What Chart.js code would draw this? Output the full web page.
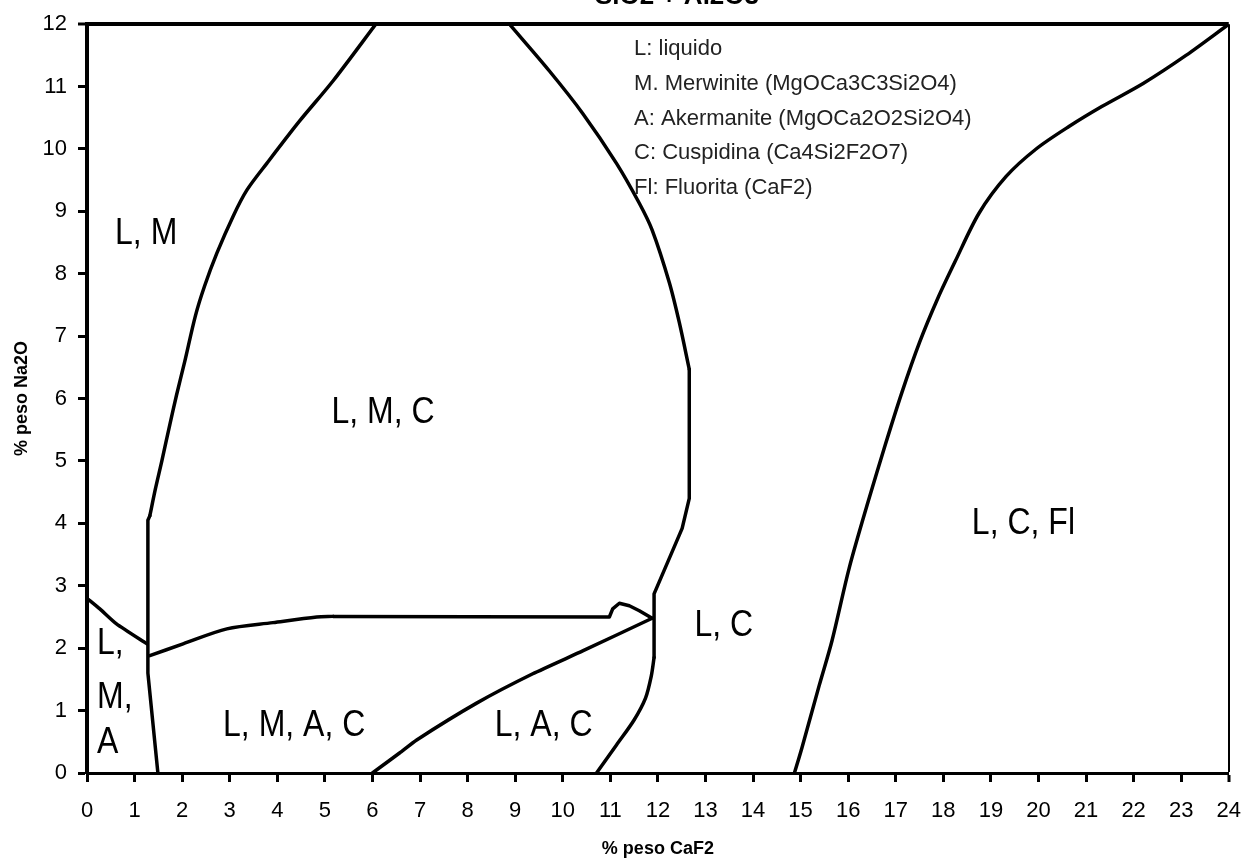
<!DOCTYPE html>
<html>
<head>
<meta charset="utf-8">
<script src="https://cdn.jsdelivr.net/npm/chart.js@4/dist/chart.umd.min.js"></script>
<style>
  html, body { margin: 0; padding: 0; background: #fff; }
  #wrap { width: 1257px; height: 861px; position: relative; }
</style>
</head>
<body>
<div id="wrap"><canvas id="myChart"></canvas></div>
<script>
// Axis ticks
const xTicks = [0, 1, 2, 3, 4, 5, 6, 7, 8, 9, 10, 11, 12, 13, 14, 15, 16, 17, 18, 19, 20, 21, 22, 23, 24];
const yTicks = [0, 1, 2, 3, 4, 5, 6, 7, 8, 9, 10, 11, 12];

// Boundary lines (% CaF2 , % Na2O)
// L,M | L,M,C curve (smooth part)
const lmcLeftX = [6.07, 5.17, 4.47, 3.78, 3.36, 3.07, 2.73, 2.47, 2.28, 2.05, 1.88, 1.74, 1.57, 1.44, 1.32];
const lmcLeftY = [12, 11.09, 10.45, 9.77, 9.34, 8.92, 8.33, 7.8, 7.33, 6.58, 6.05, 5.58, 4.99, 4.56, 4.12];
// vertical drop + slanted foot
const lmcFootX = [1.32, 1.28, 1.28, 1.49];
const lmcFootY = [4.12, 4.05, 1.6, 0];
// L,M,A upper edge from the Na2O axis
const lmaTopX = [0, 0.27, 0.62, 1.26];
const lmaTopY = [2.8, 2.63, 2.39, 2.07];
// L,M,C / L,M,A,C boundary
const lmacTopX = [1.32, 2.02, 2.94, 3.91, 4.83, 5.17];
const lmacTopY = [1.88, 2.07, 2.31, 2.41, 2.5, 2.51];
const lmacFlatX = [5.17, 10.98, 11.05, 11.19, 11.4, 11.61, 11.88];
const lmacFlatY = [2.51, 2.5, 2.63, 2.72, 2.68, 2.6, 2.48];
// L,M,A,C / L,A,C boundary
const lacLeftX = [6.0, 6.57, 6.93, 8.19, 9.37, 10.43, 11.88];
const lacLeftY = [0, 0.32, 0.53, 1.12, 1.59, 1.96, 2.48];
// right edge of L,M,C
const lmcRightX = [8.88, 9.72, 10.42, 11.13, 11.61, 11.88, 12.24, 12.45, 12.66];
const lmcRightY = [12, 11.25, 10.57, 9.77, 9.13, 8.7, 7.86, 7.22, 6.47];
const lmcKinkX = [12.66, 12.66, 12.51, 12.24, 11.92, 11.92];
const lmcKinkY = [6.47, 4.4, 3.92, 3.44, 2.87, 1.85];
// L,A,C / L,C boundary
const lacRightX = [11.92, 11.86, 11.74, 11.5, 11.13, 10.71];
const lacRightY = [1.85, 1.55, 1.2, 0.85, 0.45, 0];
// L,C / L,C,Fl boundary
const lcflX = [14.87, 15.03, 15.39, 15.66, 16.02, 16.42, 16.78, 17.13, 17.5, 17.88, 18.25, 18.75, 19.32, 19.95, 20.64, 21.33, 22.2, 23.1, 24];
const lcflY = [0, 0.41, 1.4, 2.12, 3.28, 4.35, 5.26, 6.1, 6.9, 7.6, 8.2, 8.97, 9.56, 10.0, 10.36, 10.68, 11.05, 11.5, 12];

// Phase field labels (anchor at left/middle, data units)
const regionText = ['L, M', 'L, M, C', 'L, C, Fl', 'L, C', 'L, A, C', 'L, M, A, C', 'L,', 'M,', 'A'];
const regionX = [0.59, 5.14, 18.6, 12.77, 8.57, 2.86, 0.21, 0.21, 0.21];
const regionY = [8.65, 5.78, 3.99, 2.36, 0.76, 0.76, 2.07, 1.21, 0.48];

// Key
const keyText = [
  'L: liquido',
  'M. Merwinite (MgOCa3C3Si2O4)',
  'A: Akermanite (MgOCa2O2Si2O4)',
  'C: Cuspidina (Ca4Si2F2O7)',
  'Fl: Fluorita (CaF2)',
];
const keyX = 11.5;
const keyY = [11.6, 11.04, 10.48, 9.93, 9.38];

const chartTitle = 'SiO2 + Al2O3';

const FONT = '"Liberation Sans", Arial, sans-serif';

const toPoints = (xs, ys) => xs.map((v, i) => ({ x: v, y: ys[i] }));

const curve = (xs, ys, tension) => ({
  data: toPoints(xs, ys),
  showLine: true,
  borderColor: '#000',
  borderWidth: 3.5,
  pointRadius: 0,
  tension,
  borderJoinStyle: 'round',
  borderCapStyle: 'round',
});

const data = {
  datasets: [
    curve(lmcLeftX, lmcLeftY, 0.3),
    curve(lmcFootX, lmcFootY, 0),
    curve(lmaTopX, lmaTopY, 0.2),
    curve(lmacTopX, lmacTopY, 0.3),
    curve(lmacFlatX, lmacFlatY, 0),
    curve(lacLeftX, lacLeftY, 0.2),
    curve(lmcRightX, lmcRightY, 0.3),
    curve(lmcKinkX, lmcKinkY, 0),
    curve(lacRightX, lacRightY, 0.3),
    curve(lcflX, lcflY, 0.3),
  ],
};

// texts drawn on top of the plot
const notesPlugin = {
  id: 'notes',
  afterDatasetsDraw(chart) {
    const { ctx, scales: { x, y } } = chart;
    ctx.save();
    ctx.fillStyle = '#000';
    ctx.textAlign = 'left';
    ctx.textBaseline = 'middle';

    ctx.font = `32px ${FONT}`;
    regionText.forEach((t, i) => {
      ctx.save();
      ctx.translate(x.getPixelForValue(regionX[i]), y.getPixelForValue(regionY[i]));
      ctx.scale(1, 1.18);
      ctx.fillText(t, 0, 0);
      ctx.restore();
    });

    ctx.fillStyle = '#222';
    ctx.font = `22px ${FONT}`;
    keyText.forEach((t, i) => {
      ctx.fillText(t, x.getPixelForValue(keyX), y.getPixelForValue(keyY[i]));
    });

    ctx.fillStyle = '#000';
    ctx.textAlign = 'center';
    ctx.textBaseline = 'alphabetic';
    ctx.font = `bold 26px ${FONT}`;
    ctx.fillText(chartTitle, 677, 4);
    ctx.restore();
  },
};

const config = {
  type: 'scatter',
  data,
  options: {
    responsive: true,
    maintainAspectRatio: false,
    animation: false,
    layout: { padding: { top: 20, right: 27, left: 0, bottom: 0 } },
    plugins: {
      legend: { display: false },
      tooltip: { enabled: false },
    },
    scales: {
      x: {
        type: 'linear',
        min: 0,
        max: 24,
        afterFit: (scale) => { scale.height = 88; },
        afterBuildTicks: (scale) => { scale.ticks = xTicks.map((v) => ({ value: v })); },
        ticks: {
          color: '#000',
          font: { family: FONT, size: 22 },
          padding: 16,
          maxRotation: 0,
          autoSkip: false,
        },
        grid: {
          color: (c) => (c.tick && c.tick.value === 24 ? '#000' : 'rgba(0,0,0,0)'),
          lineWidth: (c) => (c.tick && c.tick.value === 24 ? 2 : 1),
          tickColor: '#000',
          tickWidth: 3,
          tickLength: 9,
        },
        border: { display: true, color: '#000', width: 3 },
        title: {
          display: true,
          text: '% peso CaF2',
          color: '#000',
          font: { family: FONT, size: 18, weight: 'bold' },
          padding: { top: 0, bottom: 1 },
        },
      },
      y: {
        type: 'linear',
        min: 0,
        max: 12,
        afterFit: (scale) => { scale.width = 87; },
        afterBuildTicks: (scale) => { scale.ticks = yTicks.map((v) => ({ value: v })); },
        ticks: {
          color: '#000',
          font: { family: FONT, size: 22 },
          padding: 11,
          autoSkip: false,
        },
        grid: {
          color: (c) => (c.tick && c.tick.value === 12 ? '#000' : 'rgba(0,0,0,0)'),
          lineWidth: (c) => (c.tick && c.tick.value === 12 ? 4 : 1),
          tickColor: '#000',
          tickWidth: 3,
          tickLength: 9,
        },
        border: { display: true, color: '#000', width: 4 },
        title: {
          display: true,
          text: '% peso Na2O',
          color: '#000',
          font: { family: FONT, size: 18, weight: 'bold' },
          padding: { top: 11, bottom: 0 },
        },
      },
    },
  },
  plugins: [notesPlugin],
};

const myChart = new Chart(document.getElementById('myChart'), config);
</script>
</body>
</html>
